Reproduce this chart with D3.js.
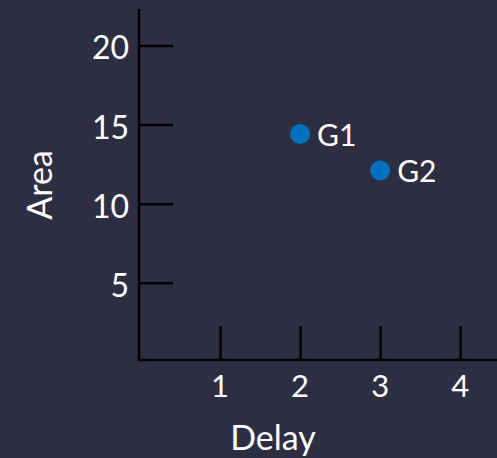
<!DOCTYPE html>
<html><head><meta charset="utf-8">
<script src="https://cdn.jsdelivr.net/npm/d3@7"></script>
<style>html,body{margin:0;padding:0;background:#2e2e42;}svg{display:block;}</style>
</head><body>
<script>
const labels = ["G1", "G2"];
const delay = [2, 3];
const area = [14.4, 12.1];
const xTicks = [1, 2, 3, 4];
const yTicks = [5, 10, 15, 20];

const W = 497, H = 458;
const svg = d3.select("body").append("svg").attr("width", W).attr("height", H);
svg.append("rect").attr("width", W).attr("height", H).attr("fill", "#2e2e42");

const x = d3.scaleLinear().domain([0, 4.46]).range([140, 497]);
const y = d3.scaleLinear().domain([0, 22.3]).range([362, 9]);
const font = "Lato, 'Open Sans', sans-serif";

// axes
const xAxis = svg.append("g").attr("transform", "translate(0,360)")
  .call(d3.axisTop(x).tickValues(xTicks).tickSize(34).tickFormat(""));
xAxis.select(".domain").remove();
xAxis.selectAll("line").attr("stroke", "#000").attr("stroke-width", 2.5);

const yAxis = svg.append("g").attr("transform", "translate(139,0)")
  .call(d3.axisRight(y).tickValues(yTicks).tickSize(34).tickFormat(""));
yAxis.select(".domain").remove();
yAxis.selectAll("line").attr("stroke", "#000").attr("stroke-width", 2.5);

svg.append("line").attr("x1", 139).attr("x2", 139).attr("y1", 9).attr("y2", 361)
  .attr("stroke", "#000").attr("stroke-width", 2.5);
svg.append("line").attr("x1", 138).attr("x2", 497).attr("y1", 360).attr("y2", 360)
  .attr("stroke", "#000").attr("stroke-width", 2.5);

// tick labels
svg.selectAll(".xt").data(xTicks).enter().append("text")
  .attr("x", d => x(d)).attr("y", 397).attr("text-anchor", "middle")
  .attr("fill", "#fff").attr("font-family", font).attr("font-size", 31).text(d => d);
svg.selectAll(".yt").data(yTicks).enter().append("text")
  .attr("x", 129).attr("y", d => y(d) + 14).attr("text-anchor", "end")
  .attr("fill", "#fff").attr("font-family", font).attr("font-size", 32).text(d => d);

// axis titles
svg.append("text").attr("x", 273).attr("y", 450).attr("text-anchor", "middle")
  .attr("fill", "#fff").attr("font-family", font).attr("font-size", 34).text("Delay");
svg.append("text").attr("transform", "translate(52,185) rotate(-90)").attr("text-anchor", "middle")
  .attr("fill", "#fff").attr("font-family", font).attr("font-size", 34).text("Area");

// points
const data = labels.map((l, i) => ({l, x: delay[i], y: area[i]}));
svg.selectAll("circle.pt").data(data).enter().append("circle")
  .attr("cx", d => x(d.x)).attr("cy", d => y(d.y)).attr("r", 10).attr("fill", "#0070c0");
svg.selectAll("text.pl").data(data).enter().append("text")
  .attr("x", d => x(d.x) + 17).attr("y", d => y(d.y) + 12)
  .attr("fill", "#fff").attr("font-family", font).attr("font-size", 30).text(d => d.l);
</script>
</body></html>
